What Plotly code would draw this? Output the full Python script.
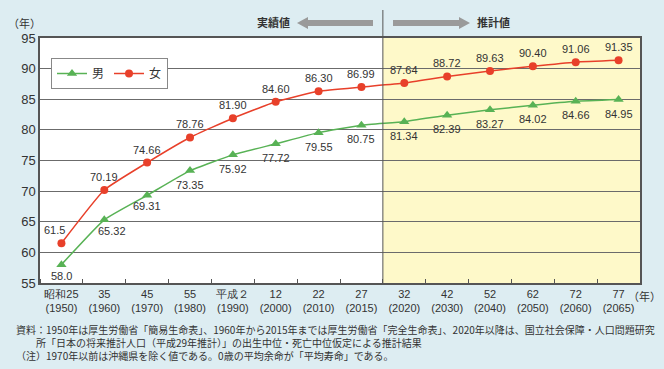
import plotly.graph_objects as go

categories = ["昭和25<br>(1950)", "35<br>(1960)", "45<br>(1970)", "55<br>(1980)", "平成２<br>(1990)",
              "12<br>(2000)", "22<br>(2010)", "27<br>(2015)", "32<br>(2020)", "42<br>(2030)",
              "52<br>(2040)", "62<br>(2050)", "72<br>(2060)", "77<br>(2065)"]
male = [58.0, 65.32, 69.31, 73.35, 75.92, 77.72, 79.55, 80.75, 81.34, 82.39, 83.27, 84.02, 84.66, 84.95]
female = [61.5, 70.19, 74.66, 78.76, 81.90, 84.60, 86.30, 86.99, 87.64, 88.72, 89.63, 90.40, 91.06, 91.35]
male_labels = ["58.0", "65.32", "69.31", "73.35", "75.92", "77.72", "79.55", "80.75", "81.34", "82.39",
               "83.27", "84.02", "84.66", "84.95"]
female_labels = ["61.5", "70.19", "74.66", "78.76", "81.90", "84.60", "86.30", "86.99", "87.64", "88.72",
                 "89.63", "90.40", "91.06", "91.35"]
projection_start = 8  # index of first projected category

W, H = 664, 369
L, R, T, B = 40, 24, 38, 86
PW, PH = W - L - R, H - T - B

def px(xp):
    return (xp - L) / PW

def py(yp):
    return (H - B - yp) / PH

xs = list(range(len(categories)))
RED = "#E8402A"
GREEN = "#58B255"
GRID = "#6b6b6b"
JP = "Noto Sans CJK JP, sans-serif"

fig = go.Figure()
fig.add_trace(go.Scatter(x=xs, y=male, name="男", mode="lines+markers",
                         line=dict(color=GREEN, width=1.5, shape="spline", smoothing=0.4),
                         marker=dict(symbol="triangle-up", size=9, color=GREEN)))
fig.add_trace(go.Scatter(x=xs, y=female, name="女", mode="lines+markers",
                         line=dict(color=RED, width=1.5, shape="spline", smoothing=0.4),
                         marker=dict(symbol="circle", size=8, color=RED)))

annos = []
for i, (v, t) in enumerate(zip(female, female_labels)):
    xshift = -7 if i == 0 else 0
    annos.append(dict(x=i, y=v, text=t, showarrow=False, yshift=13, xshift=xshift,
                      xanchor="center", yanchor="middle",
                      font=dict(size=11, color="#333333", family="Liberation Sans, Arial, sans-serif")))
for i, (v, t) in enumerate(zip(male, male_labels)):
    xshift = 8 if i == 1 else 0
    yshift = -11 if i < 3 else -14
    annos.append(dict(x=i, y=v, text=t, showarrow=False, yshift=yshift, xshift=xshift,
                      xanchor="center", yanchor="middle",
                      font=dict(size=11, color="#333333", family="Liberation Sans, Arial, sans-serif")))

def txt(x, y, text, size=11, xanchor="center"):
    return dict(xref="paper", yref="paper", x=px(x), y=py(y), text=text, showarrow=False,
                xanchor=xanchor, yanchor="middle", align="left",
                font=dict(size=size, color="#333333", family=JP))

footnote = ("資料：1950年は厚生労働省「簡易生命表」、1960年から2015年までは厚生労働省「完全生命表」、2020年以降は、国立社会保障・人口問題研究<br>"
            "　　所「日本の将来推計人口（平成29年推計）」の出生中位・死亡中位仮定による推計結果<br>"
            "（注）1970年以前は沖縄県を除く値である。0歳の平均余命が「平均寿命」である。")

annos += [
    txt(24, 23, "（年）"),
    txt(644, 296, "（年）"),
    txt(273, 22, "<b>実績値</b>"),
    txt(493, 22, "<b>推計値</b>"),
    txt(14, 342, footnote, size=10, xanchor="left"),
]

def arrow_path(x_tail, x_head, yc):
    d = 1 if x_head > x_tail else -1
    hl = 11
    xb = x_head - d * hl
    pts = [(x_tail, yc - 3), (xb, yc - 3), (xb, yc - 6), (x_head, yc), (xb, yc + 6), (xb, yc + 3), (x_tail, yc + 3)]
    return "M " + " L ".join(f"{px(a):.5f},{py(b):.5f}" for a, b in pts) + " Z"

sep = projection_start - 0.5
shapes = [
    dict(type="rect", xref="x", yref="paper", x0=sep, x1=len(categories) - 0.5, y0=0, y1=1,
         fillcolor="#FEF9C9", line=dict(width=0), layer="below"),
    dict(type="line", xref="x", yref="paper", x0=sep, x1=sep, y0=0, y1=py(10),
         line=dict(color="#555555", width=1)),
    dict(type="path", xref="paper", yref="paper", path=arrow_path(373, 297, 23),
         fillcolor="#9a9a9a", line=dict(width=0)),
    dict(type="path", xref="paper", yref="paper", path=arrow_path(393, 470, 23),
         fillcolor="#9a9a9a", line=dict(width=0)),
]

fig.update_layout(
    width=W, height=H,
    margin=dict(l=L, r=R, t=T, b=B),
    paper_bgcolor="#DDEDF2",
    plot_bgcolor="white",
    font=dict(family="Liberation Sans, Arial, sans-serif", color="#333333"),
    showlegend=True,
    legend=dict(orientation="h", x=px(51), y=py(58), xanchor="left", yanchor="top",
                bgcolor="white", bordercolor="#888888", borderwidth=1,
                font=dict(size=12, family=JP, color="#333333"),
                itemwidth=30, tracegroupgap=0),
    annotations=annos,
    shapes=shapes,
    xaxis=dict(range=[-0.5, len(categories) - 0.5], tickmode="array", tickvals=xs, ticktext=categories,
               ticks="", showgrid=False, zeroline=False, showline=True, linecolor="#555555", linewidth=1.5,
               mirror=True, tickfont=dict(size=11, color="#333333"),
               minor=dict(tick0=0.5, dtick=1, ticks="inside", ticklen=4, tickcolor="#555555", showgrid=False)),
    yaxis=dict(range=[55, 95], dtick=5, showgrid=True, gridcolor=GRID, gridwidth=1, zeroline=False,
               showline=True, linecolor="#555555", linewidth=1.5, mirror=True,
               tickfont=dict(size=13, color="#333333"), ticks=""),
)

fig.write_html("out.html", config={"displayModeBar": False},
               post_script="document.body.style.margin='0';")
